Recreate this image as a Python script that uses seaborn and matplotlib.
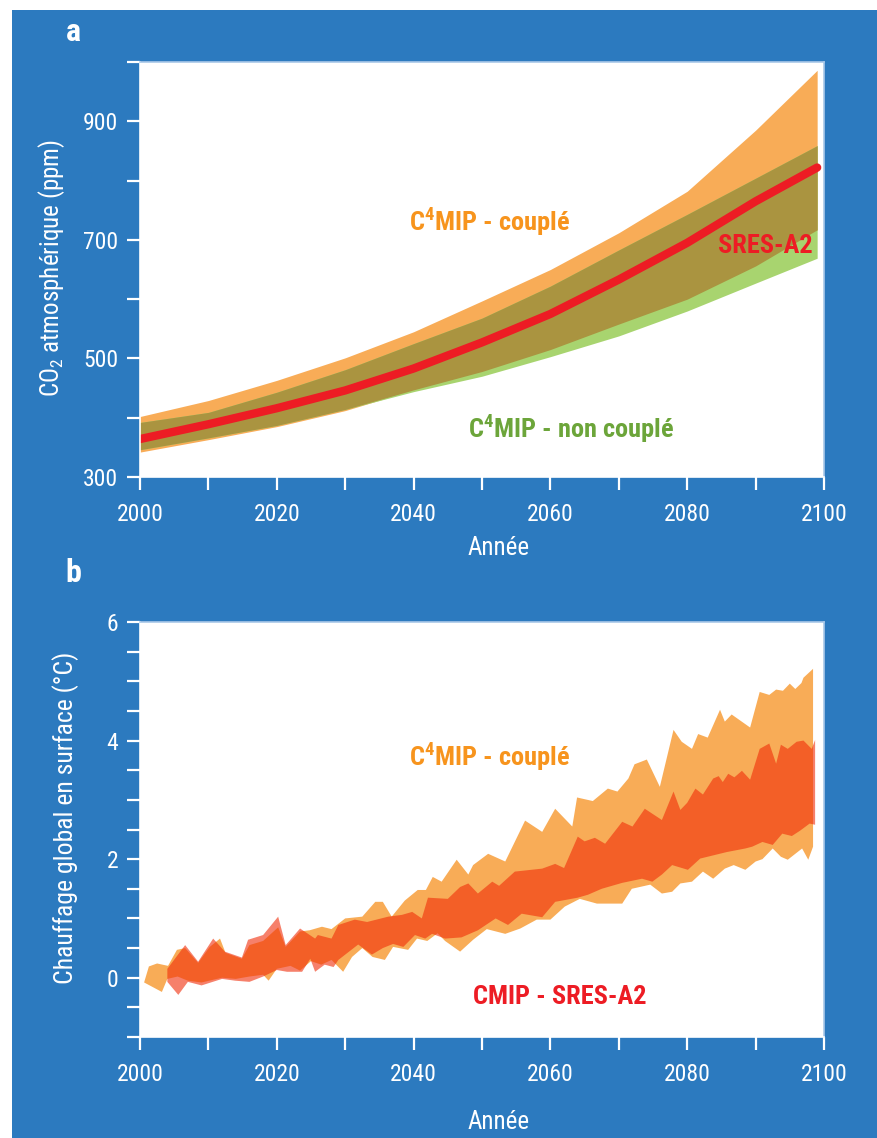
import matplotlib
matplotlib.use("Agg")
import matplotlib.pyplot as plt
from matplotlib.patches import Rectangle
from matplotlib.ticker import MultipleLocator
import numpy as np
import seaborn as sns

# --- panel a : atmospheric CO2 (ppm) ---
YEARS_A = [2000, 2010, 2020, 2030, 2040, 2050, 2060, 2070, 2080, 2090, 2099]
COUPLED_HI = [402, 429, 463, 501, 545, 597, 650, 712, 782, 885, 986]
COUPLED_LO = [342, 363, 385, 412, 447, 478, 515, 558, 600, 656, 717]
UNCOUPLED_HI = [392, 409, 443, 481, 525, 568, 622, 683, 743, 804, 859]
UNCOUPLED_LO = [346, 366, 387, 414, 444, 470, 503, 538, 580, 627, 669]
SRES_A2 = [364, 389, 416, 446, 483, 527, 575, 633, 695, 765, 822]

# --- panel b : global surface warming (degC) ---
C4_HI_YR = [2000.6, 2001.3, 2002.5, 2004.1, 2005.4, 2006.6, 2008.5, 2010.2, 2011.7, 2012.5,
            2014.9, 2016, 2018, 2020.2, 2021.3, 2023.4, 2024.8, 2026.6, 2028, 2030,
            2032.5, 2034.4, 2035.5, 2036.8, 2038.7, 2040.6, 2041.8, 2042.8, 2044.1, 2046.3,
            2048, 2048.7, 2050.9, 2053.4, 2056.3, 2058.8, 2060.7, 2063.2, 2063.9, 2066.2,
            2068.4, 2069.8, 2071.4, 2072.3, 2074.1, 2076, 2078, 2079.2, 2080.7, 2081.6,
            2083, 2084.8, 2085.5, 2086.5, 2089.2, 2090.6, 2092, 2093, 2094, 2095,
            2095.8, 2096.7, 2097, 2098.4]
C4_HI = [-0.08, 0.19, 0.24, 0.20, 0.47, 0.50, 0.25, 0.52, 0.66, 0.42,
         0.32, 0.55, 0.62, 0.85, 0.52, 0.78, 0.80, 0.86, 0.82, 1.00,
         1.03, 1.28, 1.28, 1.03, 1.30, 1.48, 1.48, 1.70, 1.62, 1.99,
         1.74, 1.90, 2.09, 1.96, 2.65, 2.46, 2.85, 2.55, 3.04, 2.98,
         3.19, 3.14, 3.36, 3.60, 3.68, 3.22, 4.18, 3.98, 3.86, 4.11,
         4.05, 4.52, 4.32, 4.44, 4.22, 4.82, 4.77, 4.86, 4.84, 4.96,
         4.87, 4.97, 5.06, 5.21]
C4_LO_YR = [2000.6, 2003.2, 2004.0, 2005.5, 2007, 2009, 2012, 2014, 2016, 2018,
            2018.8, 2020, 2022, 2023.4, 2025, 2026.5, 2028, 2029.7, 2031, 2032.5,
            2034, 2035.8, 2037, 2039.2, 2040.5, 2042, 2043.5, 2044.6, 2046.8, 2048.7,
            2050.7, 2053.4, 2055.6, 2058, 2060, 2062.1, 2064.3, 2066.8, 2070.5, 2071.9,
            2074.6, 2076.3, 2077.8, 2079, 2080.7, 2082.3, 2083.8, 2085.5, 2086.8, 2088.5,
            2090, 2091, 2092.5, 2093.7, 2094.7, 2096.8, 2097.7, 2098.4]
C4_LO = [-0.08, -0.24, -0.02, 0.02, -0.05, -0.08, 0.00, -0.02, 0.02, 0.05,
         -0.05, 0.15, 0.20, 0.12, 0.28, 0.22, 0.30, 0.10, 0.35, 0.50,
         0.35, 0.30, 0.52, 0.47, 0.66, 0.62, 0.75, 0.62, 0.44, 0.64,
         0.82, 0.74, 0.83, 0.98, 0.98, 1.20, 1.33, 1.25, 1.25, 1.50,
         1.57, 1.42, 1.45, 1.59, 1.62, 1.79, 1.67, 1.84, 1.90, 1.82,
         1.96, 2.00, 2.18, 2.04, 1.99, 2.18, 1.99, 2.21]
CMIP_HI_YR = [2004.0, 2006.6, 2008.5, 2010.7, 2012.4, 2014.9, 2015.8, 2018, 2020.2, 2021.3,
              2023.4, 2025.6, 2026, 2028, 2029, 2031.4, 2033.2, 2036.3, 2038.3, 2039.8,
              2041.2, 2042.1, 2045, 2046.8, 2048, 2049.4, 2051.5, 2052.5, 2054.8, 2058.8,
              2060.7, 2062, 2064, 2065, 2066.5, 2068, 2070.5, 2072, 2073.8, 2076.3,
              2078, 2079, 2080, 2081.2, 2082.3, 2083.8, 2084.6, 2085.2, 2086, 2086.9,
              2088, 2089.2, 2090.6, 2092, 2093, 2093.7, 2094.7, 2096, 2097, 2098.2,
              2098.7]
CMIP_HI = [0.15, 0.55, 0.27, 0.66, 0.44, 0.34, 0.64, 0.72, 1.03, 0.55,
           0.83, 0.66, 0.72, 0.66, 0.89, 0.98, 0.94, 1.03, 1.06, 1.11,
           1.00, 1.35, 1.33, 1.53, 1.59, 1.42, 1.62, 1.55, 1.79, 1.84,
           1.92, 1.85, 2.38, 2.30, 2.36, 2.26, 2.63, 2.55, 2.85, 2.66,
           3.14, 2.83, 2.95, 3.19, 3.09, 3.36, 3.40, 3.30, 3.44, 3.38,
           3.49, 3.34, 3.86, 3.95, 3.61, 3.93, 3.86, 3.98, 4.00, 3.86,
           4.01]
CMIP_LO_YR = [2004.0, 2005.6, 2007, 2009, 2012, 2013.9, 2016, 2018, 2020, 2021.5,
              2023.7, 2024.9, 2025.6, 2027, 2028.3, 2029, 2031.9, 2033.9, 2035.5, 2037,
              2038.5, 2040.2, 2041.7, 2042.7, 2044.6, 2047, 2049.4, 2052, 2053.8, 2055.8,
              2058.8, 2060.7, 2064, 2065.5, 2067.5, 2070.5, 2073.4, 2074.9, 2076.3, 2077.8,
              2080.1, 2081.9, 2085.8, 2088.5, 2089.5, 2091, 2092.5, 2093.9, 2095.3, 2096.5,
              2097.9, 2098.7]
CMIP_LO = [-0.07, -0.29, -0.07, -0.13, -0.02, -0.05, -0.07, 0.02, 0.13, 0.10,
           0.10, 0.32, 0.10, 0.22, 0.18, 0.30, 0.56, 0.39, 0.50, 0.57,
           0.52, 0.72, 0.66, 0.74, 0.66, 0.68, 0.80, 1.00, 0.89, 1.08,
           1.02, 1.28, 1.35, 1.40, 1.50, 1.60, 1.67, 1.62, 1.74, 1.90,
           1.82, 2.01, 2.12, 2.18, 2.21, 2.29, 2.24, 2.43, 2.39, 2.48,
           2.60, 2.58]

BLUE = "#2C7ABF"
ORANGE = "#F8AC57"
GREEN = "#A8D46F"
OLIVE = "#AA9440"
RED = "#ED1C24"
RED_BAND = "#F02C08"
TXT_ORANGE = "#F7941D"
TXT_GREEN = "#6CA53A"
EDGE = "#A9C8E8"

C4_COUPLED = r"C$^{\mathbf{4}}$MIP - couplé"
C4_UNCOUPLED = r"C$^{\mathbf{4}}$MIP - non couplé"

sns.set_theme(style="white")
plt.rcParams["font.family"] = ["Roboto Condensed", "DejaVu Sans"]
plt.rcParams["mathtext.fontset"] = "custom"
plt.rcParams["mathtext.rm"] = "Roboto Condensed"
plt.rcParams["mathtext.bf"] = "Roboto Condensed:bold"

W, H = 877, 1138
fig = plt.figure(figsize=(W / 100, H / 100), dpi=100)
fig.patch.set_facecolor("white")
fig.add_artist(Rectangle((12 / W, 0), 1 - 12 / W, 1 - 10 / H, transform=fig.transFigure,
                         facecolor=BLUE, edgecolor="none", zorder=-10))

ax_a = fig.add_axes([140 / W, 1 - 477 / H, 684 / W, 415 / H])
ax_b = fig.add_axes([140 / W, 1 - 1037 / H, 684 / W, 415 / H])


def style_axes(ax, ylim, major, offset, minor):
    ax.set_facecolor("white")
    ax.set_xlim(2000, 2100)
    ax.set_ylim(*ylim)
    ax.xaxis.set_major_locator(MultipleLocator(20))
    ax.xaxis.set_minor_locator(MultipleLocator(10))
    ax.yaxis.set_major_locator(MultipleLocator(major, offset=offset))
    ax.yaxis.set_minor_locator(MultipleLocator(minor))
    ax.tick_params(which="both", direction="out", length=9.5, width=1.6, color="white",
                   labelcolor="white", labelsize=17, left=True, bottom=True)
    ax.tick_params(axis="x", which="both", pad=9)
    ax.tick_params(axis="y", which="both", pad=6)
    for s in ["left", "bottom"]:
        ax.spines[s].set_color("white")
        ax.spines[s].set_linewidth(1.2)
    for s in ["top", "right"]:
        ax.spines[s].set_color(EDGE)
        ax.spines[s].set_linewidth(1.2)
    ax.set_xlabel("")
    ax.set_ylabel("")
    ax.grid(False)


# panel a
ya = np.array(YEARS_A)
ax_a.fill_between(ya, COUPLED_LO, COUPLED_HI, color=ORANGE, lw=0)
ax_a.fill_between(ya, UNCOUPLED_LO, UNCOUPLED_HI, color=GREEN, lw=0)
ax_a.fill_between(ya, np.maximum(COUPLED_LO, UNCOUPLED_LO), np.minimum(COUPLED_HI, UNCOUPLED_HI),
                  color=OLIVE, lw=0)
sns.lineplot(x=YEARS_A, y=SRES_A2, ax=ax_a, color=RED, lw=6, solid_capstyle="round")
style_axes(ax_a, (300, 1000), 200, 100, 100)
ax_a.text(2051.1, 730, C4_COUPLED, color=TXT_ORANGE, fontsize=19, weight="bold",
          ha="center", va="center")
ax_a.text(2091.4, 690, "SRES-A2", color=RED, fontsize=19, weight="bold", ha="center", va="center")
ax_a.text(2063.1, 381, C4_UNCOUPLED, color=TXT_GREEN, fontsize=19, weight="bold",
          ha="center", va="center")

# panel b
ax_b.fill(np.concatenate([C4_HI_YR, C4_LO_YR[::-1]]), np.concatenate([C4_HI, C4_LO[::-1]]),
          color=ORANGE, lw=0)
ax_b.fill(np.concatenate([CMIP_HI_YR, CMIP_LO_YR[::-1]]), np.concatenate([CMIP_HI, CMIP_LO[::-1]]),
          color=RED_BAND, alpha=0.6, lw=0)
style_axes(ax_b, (-1, 6), 2, 0, 0.5)
ax_b.text(2051.1, 3.73, C4_COUPLED, color=TXT_ORANGE, fontsize=19, weight="bold",
          ha="center", va="center")
ax_b.text(2061.3, -0.32, "CMIP - SRES-A2", color=RED, fontsize=19, weight="bold",
          ha="center", va="center")

# labels
fig.text(73 / W, 1 - 32 / H, "a", color="white", fontsize=23, weight="bold", ha="center", va="center")
fig.text(73 / W, 1 - 573 / H, "b", color="white", fontsize=23, weight="bold", ha="center", va="center")
fig.text(52 / W, 1 - 268 / H, "CO$_2$ atmosphérique (ppm)", color="white", fontsize=18,
         rotation=90, ha="center", va="center")
fig.text(66 / W, 1 - 818 / H, "Chauffage global en surface (°C)", color="white", fontsize=18.5,
         rotation=90, ha="center", va="center")
fig.text(499 / W, 1 - 548 / H, "Année", color="white", fontsize=18, ha="center", va="center")
fig.text(499 / W, 1 - 1122 / H, "Année", color="white", fontsize=18, ha="center", va="center")

fig.savefig("out.png", dpi=100)
